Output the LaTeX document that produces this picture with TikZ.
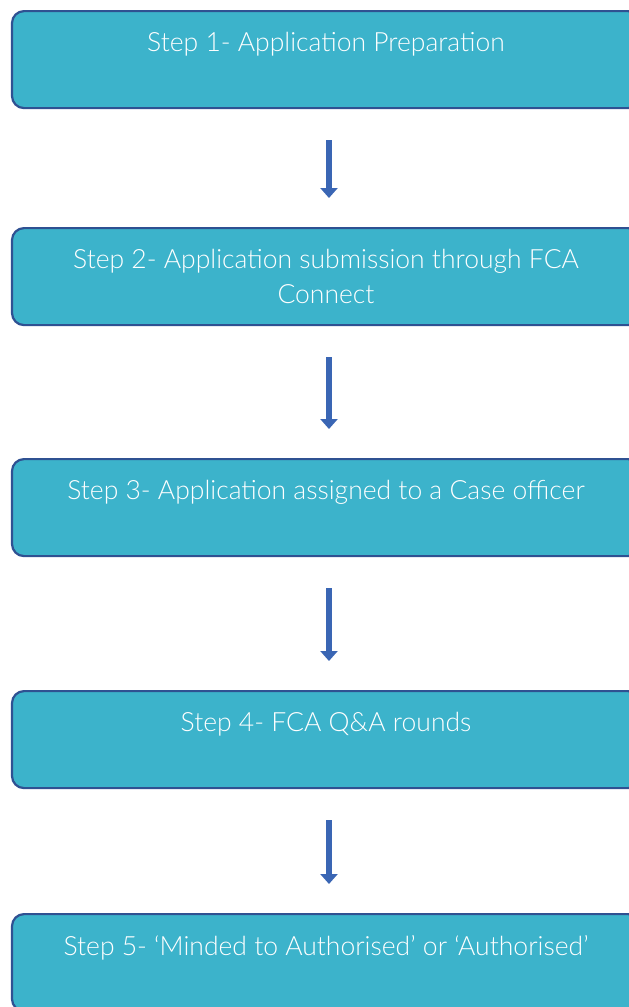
\documentclass[tikz,border=0pt]{standalone}
\usepackage{fontspec}
\setmainfont{Lato Light}
\usetikzlibrary{arrows.meta}
\definecolor{stepfill}{HTML}{3CB3CB}
\definecolor{stepline}{HTML}{2F5192}
\definecolor{flowblue}{HTML}{3A66B4}
\tikzset{
  stepbox/.style={draw=stepline,line width=2.2pt,fill=stepfill,rounded corners=12pt,
    minimum width=628pt,minimum height=97pt,anchor=north,text=white,align=center,
    font=\fontsize{26.5}{35}\selectfont},
  flow/.style={draw=flowblue,line width=6pt,-{Triangle[width=17pt,length=10pt]},
    shorten <=31pt,shorten >=29pt}
}
\begin{document}
\begin{tikzpicture}[x=1pt,y=-1pt]
    %% Page
    \useasboundingbox (0,0) rectangle (629,1007);
    \clip (0,0) rectangle (629,1007);
    %% Steps
    \node[stepbox] (s1) at (326,10) {Step 1- Application Preparation\\\mbox{}};
    \node[stepbox] (s2) at (326,227) {Step 2- Application submission through FCA\\Connect};
    \node[stepbox] (s3) at (326,458) {Step 3- Application assigned to a Case officer\\\mbox{}};
    \node[stepbox] (s4) at (326,690) {Step 4- FCA Q\&A rounds\\\mbox{}};
    \node[stepbox] (s5) at (326,913) {Step 5- `Minded to Authorised' or `Authorised'\\\mbox{}};
    %% Arrows
    \draw[flow] ([xshift=3pt]s1.south) -- ([xshift=3pt]s2.north);
    \draw[flow] ([xshift=3pt]s2.south) -- ([xshift=3pt]s3.north);
    \draw[flow] ([xshift=3pt]s3.south) -- ([xshift=3pt]s4.north);
    \draw[flow] ([xshift=3pt]s4.south) -- ([xshift=3pt]s5.north);
\end{tikzpicture}
\end{document}
